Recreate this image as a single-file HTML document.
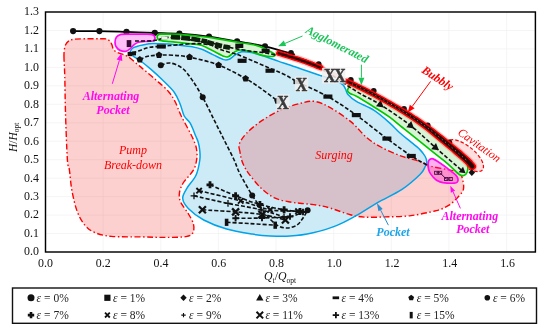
<!DOCTYPE html><html><head><meta charset="utf-8"><title>Flow pattern map</title>
<style>html,body{margin:0;padding:0;background:#fff}svg{display:block}text{font-family:"Liberation Serif","DejaVu Serif",serif}</style></head><body>
<svg width="550" height="329" viewBox="0 0 550 329">
<rect width="550" height="329" fill="#fff"/>
<path d="M45.5 233.5H535.4M45.5 215.1H535.4M45.5 196.6H535.4M45.5 178.2H535.4M45.5 159.7H535.4M45.5 141.2H535.4M45.5 122.8H535.4M45.5 104.3H535.4M45.5 85.8H535.4M45.5 67.4H535.4M45.5 48.9H535.4M45.5 30.5H535.4M103.1 12.0V252.0M160.8 12.0V252.0M218.4 12.0V252.0M276.0 12.0V252.0M333.7 12.0V252.0M391.3 12.0V252.0M448.9 12.0V252.0M506.6 12.0V252.0" stroke="#f0f0f0" stroke-width="0.7" fill="none"/>
<path d="M130.2 53.0C129.9 51.9 130.6 50.6 131.3 49.6C132.0 48.6 133.2 47.9 134.6 47.2C136.0 46.5 137.8 46.1 139.5 45.6C141.2 45.1 142.8 44.8 145.0 44.4C147.2 44.0 148.4 43.6 152.4 43.5C156.4 43.4 164.2 43.7 168.8 44.0C173.4 44.3 176.3 44.9 180.0 45.3C183.7 45.7 187.3 45.8 191.0 46.5C194.7 47.2 198.2 47.9 201.9 49.3C205.6 50.6 209.2 52.9 212.9 54.6C216.6 56.3 221.1 58.8 223.8 59.6C226.5 60.4 227.5 59.9 229.3 59.2C231.1 58.5 232.8 56.4 234.8 55.2C236.9 54.0 238.8 52.2 241.6 51.8C244.4 51.4 247.0 51.6 251.4 52.6C255.8 53.6 263.3 56.0 267.9 57.5C272.5 59.0 274.3 59.9 278.8 61.4C283.3 62.9 290.4 65.2 295.0 66.8C299.6 68.4 302.4 69.4 306.4 70.8C310.4 72.2 316.3 74.2 318.8 75.0C321.3 75.8 318.5 74.9 321.2 75.8C323.9 76.7 331.4 79.1 335.0 80.5C338.6 81.9 340.8 83.0 342.5 84.4C344.2 85.8 344.6 87.3 345.5 89.0C346.4 90.7 346.4 92.7 348.2 94.7C350.0 96.8 352.1 98.7 356.4 101.3C360.7 103.9 368.6 106.9 374.1 110.4C379.6 114.0 385.0 118.8 389.3 122.6C393.6 126.4 396.6 129.9 400.0 133.0C403.4 136.1 406.6 138.5 409.9 141.2C413.2 143.9 417.1 146.8 419.7 149.4C422.2 152.0 424.0 154.4 425.2 156.5C426.4 158.6 426.8 160.2 426.8 162.0C426.8 163.8 426.1 164.9 425.0 167.0C423.9 169.1 423.8 170.8 420.0 174.5C416.2 178.2 409.1 184.7 402.0 189.4C394.9 194.1 385.2 198.2 377.5 202.6C369.8 207.0 362.9 211.9 356.0 215.7C349.1 219.5 343.7 222.7 336.4 225.6C329.1 228.5 319.7 231.2 312.0 233.0C304.3 234.8 297.0 235.6 290.0 236.1C283.0 236.6 276.3 236.3 270.0 236.0C263.7 235.7 259.4 235.3 252.2 234.1C245.0 232.9 234.7 231.3 226.6 229.0C218.5 226.7 210.1 223.4 203.7 220.0C197.3 216.6 191.8 212.1 188.3 208.5C184.8 204.9 182.9 201.7 182.7 198.3C182.5 194.9 184.8 191.9 187.0 188.1C189.2 184.3 193.9 180.0 196.0 175.3C198.1 170.6 199.2 164.2 199.8 160.0C200.4 155.8 200.0 153.1 199.7 150.0C199.4 146.9 198.7 143.8 198.0 141.5C197.3 139.2 197.0 139.1 195.7 136.0C194.4 132.9 192.1 126.5 190.2 123.2C188.3 119.9 185.9 119.2 184.2 116.0C182.5 112.8 181.9 108.2 180.2 104.2C178.5 100.2 177.2 96.3 174.2 92.2C171.2 88.1 166.2 83.6 162.3 79.8C158.4 76.0 154.7 72.6 151.0 69.4C147.3 66.2 143.0 62.7 140.0 60.5C137.0 58.3 134.8 57.5 133.2 56.2C131.6 55.0 130.5 54.1 130.2 53.0Z" fill="#cdebf7"/>
<path d="M64.0 58.0C63.9 53.6 64.0 52.2 64.3 50.0C64.6 47.8 64.9 46.3 65.6 44.8C66.3 43.3 67.3 42.1 68.6 41.2C69.9 40.3 70.8 39.7 73.5 39.3C76.2 38.9 79.9 38.9 85.0 38.8C90.1 38.7 100.2 38.7 104.0 38.8C107.8 38.9 106.5 38.9 107.5 39.4C108.5 39.9 109.5 40.6 110.3 41.5C111.0 42.4 111.5 43.8 112.0 45.0C112.5 46.2 112.5 47.5 113.0 48.5C113.5 49.5 114.3 50.5 115.3 51.3C116.3 52.1 117.7 52.7 119.0 53.2C120.3 53.7 121.8 54.0 123.0 54.4C124.2 54.8 125.3 55.2 126.5 55.8C127.7 56.4 128.2 56.6 130.0 58.0C131.8 59.4 135.2 62.5 137.2 64.2C139.2 65.9 138.8 65.4 142.0 68.1C145.2 70.8 151.7 76.2 156.1 80.1C160.5 83.9 165.0 87.6 168.2 91.2C171.3 94.8 172.9 97.5 175.0 101.5C177.1 105.5 178.4 110.2 181.0 115.5C183.6 120.8 188.2 128.9 190.5 133.5C192.8 138.1 193.8 140.1 194.8 143.0C195.9 145.9 196.5 148.2 196.8 151.0C197.1 153.8 197.2 156.8 196.6 160.0C196.0 163.2 195.6 166.4 193.4 170.2C191.2 174.0 185.5 179.2 183.2 183.0C180.9 186.8 179.8 190.0 179.4 193.2C179.0 196.4 179.2 198.8 180.7 202.2C182.2 205.6 186.2 210.1 188.3 213.7C190.4 217.3 192.6 220.7 193.4 223.9C194.2 227.1 194.2 230.7 192.9 232.8C191.6 234.9 190.5 235.8 185.8 236.6C181.2 237.4 172.3 237.3 165.0 237.4C157.7 237.5 151.1 237.1 142.2 236.9C133.3 236.7 119.4 237.1 111.5 236.4C103.6 235.7 99.4 234.5 94.9 232.6C90.4 230.7 87.7 228.5 84.7 224.9C81.7 221.3 79.1 216.7 77.0 210.9C74.9 205.2 73.2 197.2 71.9 190.4C70.6 183.6 70.2 175.1 69.4 170.0C68.7 164.9 68.1 169.5 67.4 160.0C66.8 150.5 65.9 126.9 65.5 113.0C65.1 99.1 65.0 85.7 64.8 76.5C64.5 67.3 64.1 62.4 64.0 58.0Z" fill="rgba(245,40,40,0.22)" stroke="#ff0000" stroke-width="1.4" stroke-dasharray="6 2.5 1.5 2.5"/>
<path d="M240.0 152.0C239.7 149.6 238.2 147.1 239.3 144.0C240.4 140.9 242.7 137.3 246.4 133.4C250.2 129.5 255.8 124.7 261.8 120.7C267.8 116.7 275.4 112.2 282.2 109.2C289.0 106.2 297.1 104.1 302.6 102.8C308.1 101.5 310.6 100.7 315.3 101.5C320.0 102.3 324.7 104.5 330.7 107.9C336.7 111.3 345.2 117.0 351.1 121.9C357.1 126.8 361.3 133.0 366.4 137.3C371.5 141.6 375.8 144.3 381.8 147.5C387.8 150.7 395.8 154.1 402.2 156.4C408.6 158.7 415.1 159.8 420.0 161.5C424.9 163.2 426.8 165.0 431.4 166.3C436.0 167.7 443.1 168.5 447.8 169.6C452.5 170.7 456.8 171.2 459.3 172.8C461.8 174.4 461.9 176.7 462.6 179.4C463.3 182.2 464.1 186.5 463.4 189.3C462.7 192.2 460.9 193.8 458.5 196.5C456.1 199.2 452.7 202.8 449.0 205.2C445.3 207.5 442.7 208.9 436.3 210.6C429.9 212.3 419.4 214.5 410.9 215.6C402.4 216.7 393.2 216.7 385.4 216.9C377.6 217.2 370.2 217.5 364.3 217.1C358.4 216.7 355.9 216.2 350.2 214.7C344.5 213.2 335.7 209.7 330.2 208.1C324.7 206.5 321.8 205.9 317.4 205.2C313.0 204.4 308.4 204.1 304.0 203.6C299.6 203.1 296.1 203.1 291.3 202.2C286.5 201.3 280.2 200.5 275.2 198.2C270.2 195.9 265.5 192.2 261.1 188.2C256.8 184.2 252.0 178.0 249.1 174.1C246.2 170.2 244.9 167.6 243.6 165.0C242.3 162.4 241.8 160.7 241.2 158.5C240.6 156.3 240.3 154.4 240.0 152.0Z" fill="rgba(245,40,40,0.22)" stroke="#ff0000" stroke-width="1.4" stroke-dasharray="6 2.5 1.5 2.5"/>
<path d="M130.2 53.0C129.9 51.9 130.6 50.6 131.3 49.6C132.0 48.6 133.2 47.9 134.6 47.2C136.0 46.5 137.8 46.1 139.5 45.6C141.2 45.1 142.8 44.8 145.0 44.4C147.2 44.0 148.4 43.6 152.4 43.5C156.4 43.4 164.2 43.7 168.8 44.0C173.4 44.3 176.3 44.9 180.0 45.3C183.7 45.7 187.3 45.8 191.0 46.5C194.7 47.2 198.2 47.9 201.9 49.3C205.6 50.6 209.2 52.9 212.9 54.6C216.6 56.3 221.1 58.8 223.8 59.6C226.5 60.4 227.5 59.9 229.3 59.2C231.1 58.5 232.8 56.4 234.8 55.2C236.9 54.0 238.8 52.2 241.6 51.8C244.4 51.4 247.0 51.6 251.4 52.6C255.8 53.6 263.3 56.0 267.9 57.5C272.5 59.0 274.3 59.9 278.8 61.4C283.3 62.9 290.4 65.2 295.0 66.8C299.6 68.4 302.4 69.4 306.4 70.8C310.4 72.2 316.3 74.2 318.8 75.0C321.3 75.8 318.5 74.9 321.2 75.8C323.9 76.7 331.4 79.1 335.0 80.5C338.6 81.9 340.8 83.0 342.5 84.4C344.2 85.8 344.6 87.3 345.5 89.0C346.4 90.7 346.4 92.7 348.2 94.7C350.0 96.8 352.1 98.7 356.4 101.3C360.7 103.9 368.6 106.9 374.1 110.4C379.6 114.0 385.0 118.8 389.3 122.6C393.6 126.4 396.6 129.9 400.0 133.0C403.4 136.1 406.6 138.5 409.9 141.2C413.2 143.9 417.1 146.8 419.7 149.4C422.2 152.0 424.0 154.4 425.2 156.5C426.4 158.6 426.8 160.2 426.8 162.0C426.8 163.8 426.1 164.9 425.0 167.0C423.9 169.1 423.8 170.8 420.0 174.5C416.2 178.2 409.1 184.7 402.0 189.4C394.9 194.1 385.2 198.2 377.5 202.6C369.8 207.0 362.9 211.9 356.0 215.7C349.1 219.5 343.7 222.7 336.4 225.6C329.1 228.5 319.7 231.2 312.0 233.0C304.3 234.8 297.0 235.6 290.0 236.1C283.0 236.6 276.3 236.3 270.0 236.0C263.7 235.7 259.4 235.3 252.2 234.1C245.0 232.9 234.7 231.3 226.6 229.0C218.5 226.7 210.1 223.4 203.7 220.0C197.3 216.6 191.8 212.1 188.3 208.5C184.8 204.9 182.9 201.7 182.7 198.3C182.5 194.9 184.8 191.9 187.0 188.1C189.2 184.3 193.9 180.0 196.0 175.3C198.1 170.6 199.2 164.2 199.8 160.0C200.4 155.8 200.0 153.1 199.7 150.0C199.4 146.9 198.7 143.8 198.0 141.5C197.3 139.2 197.0 139.1 195.7 136.0C194.4 132.9 192.1 126.5 190.2 123.2C188.3 119.9 185.9 119.2 184.2 116.0C182.5 112.8 181.9 108.2 180.2 104.2C178.5 100.2 177.2 96.3 174.2 92.2C171.2 88.1 166.2 83.6 162.3 79.8C158.4 76.0 154.7 72.6 151.0 69.4C147.3 66.2 143.0 62.7 140.0 60.5C137.0 58.3 134.8 57.5 133.2 56.2C131.6 55.0 130.5 54.1 130.2 53.0Z" fill="none" stroke="#00a2e8" stroke-width="1.5"/>
<path d="M73.1 31.1C77.5 31.1 90.5 31.0 99.4 31.1C108.3 31.2 117.3 31.6 126.5 31.9C135.7 32.2 146.0 32.5 154.8 32.8C163.6 33.1 170.4 33.1 179.4 33.7C188.4 34.3 199.4 35.3 209.0 36.6C218.6 37.9 227.8 39.8 237.1 41.4C246.4 43.0 255.4 44.1 265.0 46.3C274.6 48.5 289.9 53.2 294.9 54.6" stroke="#000" stroke-width="1.7" fill="none"/>
<circle cx="73.1" cy="31.1" r="3.1" fill="#111"/>
<circle cx="99.4" cy="31.1" r="3.1" fill="#111"/>
<circle cx="126.5" cy="31.9" r="3.1" fill="#111"/>
<circle cx="154.8" cy="32.8" r="3.1" fill="#111"/>
<circle cx="179.4" cy="33.7" r="3.1" fill="#111"/>
<circle cx="209.0" cy="36.6" r="3.1" fill="#111"/>
<circle cx="237.1" cy="41.4" r="3.1" fill="#111"/>
<circle cx="265.0" cy="46.3" r="3.1" fill="#111"/>
<path d="M157.2 37.4C157.1 36.6 157.3 35.5 158.0 35.0C158.7 34.5 157.7 34.3 161.3 34.2C164.9 34.1 173.4 34.1 179.4 34.4C185.4 34.7 191.8 35.6 197.5 36.2C203.2 36.8 207.7 37.2 213.9 38.1C220.1 39.1 227.4 40.4 234.6 41.7C241.8 42.9 250.6 43.8 256.9 45.6C263.2 47.4 269.1 50.9 272.2 52.4C275.2 53.9 275.2 54.1 275.2 54.8C275.2 55.5 274.3 56.4 272.2 56.5C270.1 56.6 265.9 56.1 262.4 55.3C258.9 54.5 254.9 52.6 251.4 51.7C247.9 50.8 244.2 50.1 241.6 50.0C239.0 49.9 237.5 50.6 236.0 51.2C234.5 51.8 233.9 52.6 232.6 53.5C231.3 54.4 229.7 56.3 228.2 56.8C226.7 57.3 226.4 57.3 223.8 56.3C221.2 55.3 216.6 52.6 212.9 50.8C209.2 49.0 205.6 46.7 201.9 45.5C198.2 44.3 194.7 44.3 191.0 43.8C187.3 43.3 183.5 43.0 180.0 42.6C176.5 42.2 173.0 41.9 170.0 41.6C167.0 41.3 163.9 41.1 162.0 40.8C160.1 40.5 159.3 40.4 158.5 39.8C157.7 39.2 157.3 38.2 157.2 37.4Z" fill="#d8f4d4" stroke="#00c800" stroke-width="1.7"/>
<ellipse cx="465" cy="155.6" rx="22.5" ry="9.6" transform="rotate(39 465 155.6)" fill="rgba(245,40,40,0.15)" stroke="#ff0000" stroke-width="1.2" stroke-dasharray="3.5 2"/>
<path d="M348.2 88.5C349.1 87.3 348.8 83.0 353.0 83.9C357.2 84.8 365.2 89.2 373.7 93.9C382.2 98.6 395.0 106.2 404.0 112.0C413.0 117.8 420.3 123.1 427.9 128.8C435.4 134.5 443.1 140.9 449.3 146.0C455.5 151.1 461.9 155.9 465.0 159.4C468.1 162.9 467.4 164.9 467.8 167.0C468.2 169.1 467.8 170.6 467.2 172.0C466.6 173.4 465.6 174.9 464.3 175.3C463.0 175.7 462.1 176.4 459.3 174.5C456.6 172.6 452.2 167.6 447.8 163.8C443.4 160.0 438.0 156.1 432.8 151.9C427.6 147.7 421.5 142.8 416.4 138.7C411.3 134.6 406.9 131.1 402.4 127.5C397.9 123.9 394.2 120.5 389.3 116.9C384.4 113.4 378.3 109.6 372.8 106.2C367.3 102.8 360.2 98.4 356.4 96.3C352.6 94.2 351.5 94.4 350.0 93.5C348.5 92.6 347.9 91.8 347.6 91.0C347.3 90.2 347.3 89.7 348.2 88.5Z" fill="#d8f4d4" stroke="#00c800" stroke-width="1.7"/>
<path d="M115.0 42.5C115.0 40.8 115.5 38.4 116.5 37.0C117.5 35.6 118.8 34.9 121.0 34.4C123.2 33.9 126.0 34.1 130.0 34.1C134.0 34.1 141.2 34.1 145.0 34.2C148.8 34.3 150.9 34.1 152.6 34.8C154.3 35.5 155.0 37.2 155.0 38.2C155.0 39.2 154.5 40.5 152.8 41.0C151.1 41.5 147.4 41.3 145.0 41.5C142.6 41.7 140.2 41.7 138.5 42.2C136.8 42.7 135.9 43.2 134.5 44.3C133.1 45.4 131.5 47.6 130.0 48.8C128.5 50.0 127.4 51.0 125.7 51.3C124.0 51.6 121.6 51.1 120.0 50.4C118.4 49.7 117.1 48.3 116.3 47.0C115.5 45.7 115.0 44.2 115.0 42.5Z" fill="rgba(255,0,224,0.25)" stroke="#ff0aee" stroke-width="1.7"/>
<path d="M428.1 166.3C427.9 164.6 428.0 163.2 428.3 162.0C428.6 160.8 429.2 159.8 430.0 159.3C430.8 158.8 431.4 158.3 433.1 158.9C434.8 159.5 437.6 161.4 440.0 163.0C442.4 164.6 445.1 166.6 447.8 168.7C450.5 170.8 454.3 173.5 456.0 175.3C457.7 177.1 457.8 178.3 458.0 179.4C458.2 180.5 457.9 181.4 457.3 182.0C456.7 182.6 456.8 183.1 454.4 183.2C452.0 183.3 445.8 183.1 442.9 182.7C440.0 182.2 438.6 181.4 437.0 180.5C435.4 179.6 434.4 178.4 433.1 177.0C431.9 175.6 430.3 173.8 429.5 172.0C428.7 170.2 428.3 168.0 428.1 166.3Z" fill="rgba(255,0,200,0.30)" stroke="#ff0aee" stroke-width="1.7"/>
<path d="M160.8 65.3C162.4 64.9 166.6 62.5 170.2 63.0C173.8 63.5 178.5 65.2 182.2 68.1C185.9 70.9 188.8 75.2 192.2 80.1C195.6 84.9 199.2 90.9 202.7 97.2C206.2 103.5 209.8 111.2 213.2 118.1C216.6 125.0 220.0 131.7 223.4 138.5C226.8 145.3 230.9 153.1 233.7 159.0C236.5 164.9 236.9 167.9 240.0 174.0C243.1 180.1 250.2 192.0 252.2 195.6" stroke="#111" stroke-width="1.6" stroke-dasharray="4 2" fill="none"/>
<circle cx="160.8" cy="65.3" r="3.0" fill="#111"/>
<circle cx="202.7" cy="97.2" r="3.0" fill="#111"/>
<circle cx="252.2" cy="195.6" r="3.0" fill="#111"/>
<path d="M252.2 195.6C254.2 198.3 260.0 207.2 264.0 212.0C268.0 216.8 272.2 221.8 276.0 224.5C279.8 227.2 283.5 227.9 287.0 228.0C290.5 228.1 294.3 226.7 297.0 225.0C299.7 223.3 301.2 220.5 303.0 218.0C304.8 215.5 306.8 211.5 307.6 210.2" stroke="#111" stroke-width="1.6" stroke-dasharray="4 2" fill="none"/>
<circle cx="307.6" cy="210.2" r="3.0" fill="#111"/>
<path d="M139.8 59.6C141.2 59.0 144.8 56.9 148.0 56.2C151.2 55.5 154.9 55.4 159.0 55.2C163.1 55.0 167.7 54.9 172.8 55.2C177.9 55.5 181.9 55.6 189.5 57.2C197.1 58.8 209.2 61.4 218.6 65.0C227.9 68.6 238.4 74.5 245.6 78.6C252.8 82.6 256.8 85.6 262.0 89.3C267.2 93.0 274.5 98.6 277.0 100.5" stroke="#111" stroke-width="1.6" stroke-dasharray="4 2" fill="none"/>
<polygon points="139.8,56.0 143.2,58.5 141.9,62.5 137.7,62.5 136.4,58.5" fill="#111"/>
<polygon points="159.0,51.6 162.4,54.1 161.1,58.1 156.9,58.1 155.6,54.1" fill="#111"/>
<polygon points="189.5,53.6 192.9,56.1 191.6,60.1 187.4,60.1 186.1,56.1" fill="#111"/>
<polygon points="218.6,61.4 222.0,63.9 220.7,67.9 216.5,67.9 215.2,63.9" fill="#111"/>
<polygon points="245.6,75.0 249.0,77.5 247.7,81.5 243.5,81.5 242.2,77.5" fill="#111"/>
<polygon points="277.5,97.2 280.9,99.7 279.6,103.7 275.4,103.7 274.1,99.7" fill="#111"/>
<path d="M132.5 53.0C133.8 52.6 137.1 51.4 140.0 50.4C142.9 49.4 145.8 48.0 149.9 47.3C154.0 46.6 159.9 46.4 164.6 46.0C169.2 45.6 172.7 45.2 177.8 44.8C182.9 44.4 189.7 43.6 195.0 43.6C200.3 43.6 205.7 43.9 209.8 44.8C213.9 45.7 215.8 47.8 219.6 49.2C223.4 50.6 229.7 52.4 232.8 53.3C235.9 54.2 235.2 53.6 238.3 54.8C241.4 56.0 246.5 58.2 251.4 60.3C256.3 62.4 262.6 65.1 267.9 67.4C273.2 69.7 278.2 71.6 283.2 74.0C288.2 76.4 290.6 78.2 298.0 82.0C305.4 85.8 318.2 91.1 327.9 96.6C337.6 102.1 346.5 108.1 356.3 115.1C366.1 122.1 377.7 131.8 386.9 138.6C396.1 145.4 404.5 151.5 411.3 156.0C418.1 160.5 425.0 163.8 427.7 165.4" stroke="#111" stroke-width="1.6" stroke-dasharray="4 2" fill="none"/>
<rect x="156.8" y="44.4" width="9.0" height="4.2" fill="#111"/>
<rect x="237.6" y="58.7" width="9.0" height="4.2" fill="#111"/>
<rect x="265.5" y="68.6" width="9.0" height="4.2" fill="#111"/>
<rect x="293.5" y="79.9" width="9.0" height="4.2" fill="#111"/>
<rect x="323.4" y="94.5" width="9.0" height="4.2" fill="#111"/>
<rect x="351.8" y="113.0" width="9.0" height="4.2" fill="#111"/>
<rect x="382.4" y="136.5" width="9.0" height="4.2" fill="#111"/>
<rect x="406.8" y="153.9" width="9.0" height="4.2" fill="#111"/>
<rect x="127.6" y="51.8" width="4.4" height="4.4" fill="#111"/>
<rect x="132.0" y="51.4" width="4.0" height="4.0" fill="#111"/>
<path d="M135.0 41.0C138.2 40.9 149.0 41.2 154.0 40.6C159.0 40.0 161.3 38.1 165.0 37.6C168.7 37.1 172.0 37.6 176.0 37.9C180.0 38.2 185.0 39.0 189.0 39.6C193.0 40.2 196.2 40.8 200.0 41.4C203.8 42.0 208.9 42.6 212.0 43.2C215.1 43.8 215.8 44.1 218.8 44.8C221.8 45.5 225.5 46.5 230.0 47.5C234.5 48.5 240.7 49.7 246.0 50.5C251.3 51.3 257.0 51.8 262.0 52.5C267.0 53.2 273.7 54.6 276.0 55.0" stroke="#111" stroke-width="1.6" stroke-dasharray="4 2" fill="none"/>
<path d="M171.0 37.0C172.7 37.1 177.8 37.3 181.0 37.6C184.2 37.9 186.8 38.2 190.0 38.6C193.2 39.0 197.2 39.7 200.0 40.2C202.8 40.7 205.8 41.2 207.0 41.4" stroke="#0b1f0b" stroke-width="4.6" stroke-dasharray="9 1.2" fill="none"/>
<path d="M207.0 42.2C208.2 42.5 211.5 43.3 214.0 44.0C216.5 44.7 219.3 45.6 222.0 46.2C224.7 46.8 228.7 47.5 230.0 47.8" stroke="#0b1f0b" stroke-width="4.8" stroke-dasharray="7 1.5" fill="none"/>
<rect x="161.5" y="36.8" width="6" height="2.4" fill="#eef8ea" stroke="#9ab89a" stroke-width="0.5"/>
<rect x="235.3" y="43.6" width="8.0" height="4.4" fill="#111"/>
<rect x="261.6" y="48.7" width="8.0" height="4.2" fill="#111"/>
<rect x="126.7" y="40.1" width="4.6" height="7.0" fill="#3a0838"/>
<path d="M300.0 60.0C304.2 61.8 315.6 65.8 325.0 71.0C334.4 76.2 347.2 85.8 356.4 91.4C365.6 97.0 371.2 98.9 380.2 104.6C389.2 110.3 401.4 118.4 410.6 125.6C419.8 132.8 426.7 139.9 435.4 147.5C444.1 155.1 458.1 167.2 462.6 171.2" stroke="#111" stroke-width="1.6" stroke-dasharray="4 2" fill="none"/>
<polygon points="383.7,107.4 376.0,106.3 380.8,100.1" fill="#111"/>
<polygon points="414.1,128.4 406.4,127.3 411.2,121.1" fill="#111"/>
<polygon points="438.9,150.3 431.2,149.2 436.0,143.0" fill="#111"/>
<polygon points="465.6,173.3 458.7,172.3 463.0,166.8" fill="#111"/>
<path d="M210.0 184.8C214.3 186.6 227.3 192.5 235.6 195.8C243.9 199.1 251.8 202.2 259.9 204.5C268.0 206.8 277.4 208.6 284.1 209.8C290.8 211.0 297.4 211.2 300.0 211.5" stroke="#111" stroke-width="1.6" stroke-dasharray="4 2" fill="none"/>
<path d="M206.5 184.8H213.5M210.0 181.3V188.3" stroke="#111" stroke-width="2.8" fill="none"/>
<path d="M232.1 195.8H239.1M235.6 192.3V199.3" stroke="#111" stroke-width="2.8" fill="none"/>
<path d="M256.4 204.5H263.4M259.9 201.0V208.0" stroke="#111" stroke-width="2.8" fill="none"/>
<path d="M280.6 209.8H287.6M284.1 206.3V213.3" stroke="#111" stroke-width="2.8" fill="none"/>
<path d="M296.5 211.5H303.5M300.0 208.0V215.0" stroke="#111" stroke-width="2.8" fill="none"/>
<path d="M199.1 190.7C206.0 192.4 228.9 197.7 240.7 200.9C252.5 204.1 260.6 208.1 270.1 209.8C279.7 211.5 293.4 211.0 298.0 211.2" stroke="#111" stroke-width="1.6" stroke-dasharray="4 2" fill="none"/>
<path d="M196.4 188.0L201.8 193.4M196.4 193.4L201.8 188.0" stroke="#111" stroke-width="1.9" fill="none"/>
<path d="M238.0 198.2L243.4 203.6M238.0 203.6L243.4 198.2" stroke="#111" stroke-width="1.9" fill="none"/>
<path d="M267.4 207.1L272.8 212.5M267.4 212.5L272.8 207.1" stroke="#111" stroke-width="1.9" fill="none"/>
<path d="M295.3 208.5L300.7 213.9M295.3 213.9L300.7 208.5" stroke="#111" stroke-width="1.9" fill="none"/>
<path d="M194.0 195.8C199.7 197.1 216.8 201.1 228.0 203.4C239.2 205.7 251.8 207.5 261.1 209.8C270.4 212.1 280.2 215.8 284.0 217.0" stroke="#111" stroke-width="1.6" stroke-dasharray="4 2" fill="none"/>
<path d="M190.6 195.8H197.4M194.0 192.4V199.2" stroke="#111" stroke-width="1.3" fill="none"/>
<path d="M224.6 203.4H231.4M228.0 200.0V206.8" stroke="#111" stroke-width="1.3" fill="none"/>
<path d="M257.7 209.8H264.5M261.1 206.4V213.2" stroke="#111" stroke-width="1.3" fill="none"/>
<path d="M280.6 217.0H287.4M284.0 213.6V220.4" stroke="#111" stroke-width="1.3" fill="none"/>
<path d="M202.4 209.8C207.9 210.2 225.7 211.1 235.6 211.9C245.5 212.7 253.7 213.2 262.0 214.5C270.3 215.8 281.5 219.1 285.4 220.0" stroke="#111" stroke-width="1.6" stroke-dasharray="4 2" fill="none"/>
<path d="M198.9 206.3L205.9 213.3M198.9 213.3L205.9 206.3" stroke="#111" stroke-width="2.3" fill="none"/>
<path d="M232.1 208.4L239.1 215.4M232.1 215.4L239.1 208.4" stroke="#111" stroke-width="2.3" fill="none"/>
<path d="M258.5 211.0L265.5 218.0M258.5 218.0L265.5 211.0" stroke="#111" stroke-width="2.3" fill="none"/>
<path d="M281.9 216.5L288.9 223.5M281.9 223.5L288.9 216.5" stroke="#111" stroke-width="2.3" fill="none"/>
<path d="M235.6 218.3C240.0 218.2 252.9 218.3 262.0 218.0C271.1 217.7 283.2 217.5 290.0 216.5C296.8 215.5 300.8 212.8 303.0 212.0" stroke="#111" stroke-width="1.6" stroke-dasharray="4 2" fill="none"/>
<path d="M232.3 218.3H238.9M235.6 215.0V221.6" stroke="#111" stroke-width="1.9" fill="none"/>
<path d="M258.7 218.0H265.3M262.0 214.7V221.3" stroke="#111" stroke-width="1.9" fill="none"/>
<path d="M286.7 216.5H293.3M290.0 213.2V219.8" stroke="#111" stroke-width="1.9" fill="none"/>
<path d="M299.7 212.0H306.3M303.0 208.7V215.3" stroke="#111" stroke-width="1.9" fill="none"/>
<path d="M226.6 222.3C230.5 222.5 241.9 223.1 250.0 223.6C258.1 224.1 271.0 224.9 275.2 225.2" stroke="#111" stroke-width="1.6" stroke-dasharray="4 2" fill="none"/>
<rect x="224.8" y="218.7" width="3.6" height="7.2" fill="#111"/>
<rect x="273.4" y="221.6" width="3.6" height="7.2" fill="#111"/>
<circle cx="291.0" cy="52.8" r="2.9" fill="#111"/>
<circle cx="318.7" cy="64.2" r="2.9" fill="#111"/>
<circle cx="350.8" cy="79.9" r="2.9" fill="#111"/>
<circle cx="373.7" cy="90.8" r="2.9" fill="#111"/>
<circle cx="404.0" cy="109.0" r="2.9" fill="#111"/>
<circle cx="427.7" cy="125.5" r="2.9" fill="#111"/>
<circle cx="449.3" cy="142.3" r="2.9" fill="#111"/>
<path d="M279.2 51.4L280.1 51.7L281.2 52.0L282.6 52.4L284.1 52.9L285.8 53.4L287.5 53.9L289.3 54.5L291.1 55.0L292.9 55.6L294.6 56.1L296.1 56.6L297.5 57.0L298.7 57.4L299.9 57.8L301.0 58.1L302.0 58.5L303.0 58.8L304.0 59.2L304.9 59.5L305.9 59.8L306.8 60.2L307.7 60.5L308.7 60.9L309.7 61.2L310.7 61.6L311.8 62.0L312.9 62.5L314.0 62.9L315.2 63.4L316.3 63.8L317.3 64.2L318.3 64.6L319.2 65.0L320.1 65.3L320.7 65.6L321.3 65.8A1.9 1.9 0 0 1 319.9 69.4L319.3 69.1L318.6 68.9L317.8 68.5L316.9 68.2L315.9 67.8L314.8 67.3L313.8 66.9L312.6 66.4L311.5 66.0L310.4 65.6L309.3 65.2L308.3 64.8L307.4 64.4L306.4 64.1L305.5 63.7L304.6 63.4L303.7 63.1L302.7 62.8L301.8 62.4L300.8 62.1L299.8 61.7L298.7 61.4L297.5 61.0L296.3 60.6L295.0 60.2L293.4 59.7L291.8 59.2L290.0 58.6L288.2 58.1L286.4 57.6L284.7 57.0L283.0 56.5L281.5 56.1L280.1 55.6L279.0 55.3L278.0 55.0A1.9 1.9 0 0 1 279.2 51.4Z" fill="none" stroke="rgba(255,0,0,0.22)" stroke-width="4"/>
<path d="M279.2 51.4L280.1 51.7L281.2 52.0L282.6 52.4L284.1 52.9L285.8 53.4L287.5 53.9L289.3 54.5L291.1 55.0L292.9 55.6L294.6 56.1L296.1 56.6L297.5 57.0L298.7 57.4L299.9 57.8L301.0 58.1L302.0 58.5L303.0 58.8L304.0 59.2L304.9 59.5L305.9 59.8L306.8 60.2L307.7 60.5L308.7 60.9L309.7 61.2L310.7 61.6L311.8 62.0L312.9 62.5L314.0 62.9L315.2 63.4L316.3 63.8L317.3 64.2L318.3 64.6L319.2 65.0L320.1 65.3L320.7 65.6L321.3 65.8A1.9 1.9 0 0 1 319.9 69.4L319.3 69.1L318.6 68.9L317.8 68.5L316.9 68.2L315.9 67.8L314.8 67.3L313.8 66.9L312.6 66.4L311.5 66.0L310.4 65.6L309.3 65.2L308.3 64.8L307.4 64.4L306.4 64.1L305.5 63.7L304.6 63.4L303.7 63.1L302.7 62.8L301.8 62.4L300.8 62.1L299.8 61.7L298.7 61.4L297.5 61.0L296.3 60.6L295.0 60.2L293.4 59.7L291.8 59.2L290.0 58.6L288.2 58.1L286.4 57.6L284.7 57.0L283.0 56.5L281.5 56.1L280.1 55.6L279.0 55.3L278.0 55.0A1.9 1.9 0 0 1 279.2 51.4Z" fill="#2a0606" stroke="#ff0000" stroke-width="1.5"/>
<path d="M348.3 79.7L349.5 80.3L351.0 81.0L352.7 81.8L354.6 82.7L356.7 83.7L358.9 84.8L361.3 85.9L363.7 87.1L366.2 88.3L368.7 89.6L371.2 90.9L373.7 92.2L376.2 93.6L378.9 95.1L381.7 96.6L384.5 98.2L387.4 99.9L390.4 101.5L393.3 103.2L396.2 104.9L399.0 106.5L401.8 108.1L404.4 109.6L406.8 111.0L409.0 112.4L411.2 113.7L413.2 115.0L415.1 116.3L417.0 117.5L418.8 118.7L420.6 119.9L422.3 121.1L424.0 122.3L425.8 123.6L427.5 124.9L429.3 126.2L431.2 127.5L433.1 128.9L435.0 130.4L436.8 131.8L438.7 133.3L440.6 134.8L442.4 136.2L444.2 137.7L446.0 139.1L447.7 140.5L449.4 141.9L451.0 143.2L452.6 144.5L454.2 145.8L455.8 147.0L457.3 148.3L458.8 149.5L460.3 150.7L461.7 151.9L463.0 153.1L464.3 154.2L465.5 155.2L466.6 156.2L467.7 157.2L468.6 158.1L469.5 158.9L470.3 159.7L471.0 160.4L471.7 161.1L472.2 161.8L472.8 162.4L473.2 162.9L473.6 163.4L474.0 163.8L474.3 164.2L474.5 164.4A2.9 2.9 0 0 1 470.3 168.4L469.9 168.0L469.6 167.6L469.2 167.2L468.8 166.7L468.4 166.2L467.9 165.7L467.4 165.1L466.8 164.4L466.1 163.8L465.4 163.0L464.6 162.3L463.7 161.4L462.8 160.5L461.7 159.6L460.5 158.5L459.2 157.5L457.9 156.3L456.6 155.1L455.1 153.9L453.7 152.6L452.2 151.3L450.7 150.0L449.1 148.7L447.6 147.4L446.0 146.1L444.3 144.7L442.6 143.2L440.9 141.8L439.1 140.3L437.3 138.8L435.5 137.3L433.7 135.8L431.9 134.3L430.1 132.8L428.3 131.4L426.5 130.0L424.7 128.7L423.0 127.4L421.3 126.1L419.6 124.9L417.9 123.6L416.2 122.4L414.5 121.2L412.7 119.9L410.8 118.6L408.9 117.3L406.8 116.0L404.6 114.6L402.3 113.1L399.7 111.5L397.1 109.9L394.3 108.2L391.4 106.5L388.5 104.8L385.6 103.2L382.7 101.5L379.8 99.9L377.0 98.4L374.4 96.9L371.9 95.6L369.5 94.3L367.0 93.0L364.5 91.7L362.0 90.5L359.6 89.3L357.3 88.2L355.0 87.1L353.0 86.1L351.1 85.2L349.3 84.4L347.9 83.7L346.7 83.1A1.9 1.9 0 0 1 348.3 79.7Z" fill="none" stroke="rgba(255,0,0,0.22)" stroke-width="4"/>
<path d="M348.3 79.7L349.5 80.3L351.0 81.0L352.7 81.8L354.6 82.7L356.7 83.7L358.9 84.8L361.3 85.9L363.7 87.1L366.2 88.3L368.7 89.6L371.2 90.9L373.7 92.2L376.2 93.6L378.9 95.1L381.7 96.6L384.5 98.2L387.4 99.9L390.4 101.5L393.3 103.2L396.2 104.9L399.0 106.5L401.8 108.1L404.4 109.6L406.8 111.0L409.0 112.4L411.2 113.7L413.2 115.0L415.1 116.3L417.0 117.5L418.8 118.7L420.6 119.9L422.3 121.1L424.0 122.3L425.8 123.6L427.5 124.9L429.3 126.2L431.2 127.5L433.1 128.9L435.0 130.4L436.8 131.8L438.7 133.3L440.6 134.8L442.4 136.2L444.2 137.7L446.0 139.1L447.7 140.5L449.4 141.9L451.0 143.2L452.6 144.5L454.2 145.8L455.8 147.0L457.3 148.3L458.8 149.5L460.3 150.7L461.7 151.9L463.0 153.1L464.3 154.2L465.5 155.2L466.6 156.2L467.7 157.2L468.6 158.1L469.5 158.9L470.3 159.7L471.0 160.4L471.7 161.1L472.2 161.8L472.8 162.4L473.2 162.9L473.6 163.4L474.0 163.8L474.3 164.2L474.5 164.4A2.9 2.9 0 0 1 470.3 168.4L469.9 168.0L469.6 167.6L469.2 167.2L468.8 166.7L468.4 166.2L467.9 165.7L467.4 165.1L466.8 164.4L466.1 163.8L465.4 163.0L464.6 162.3L463.7 161.4L462.8 160.5L461.7 159.6L460.5 158.5L459.2 157.5L457.9 156.3L456.6 155.1L455.1 153.9L453.7 152.6L452.2 151.3L450.7 150.0L449.1 148.7L447.6 147.4L446.0 146.1L444.3 144.7L442.6 143.2L440.9 141.8L439.1 140.3L437.3 138.8L435.5 137.3L433.7 135.8L431.9 134.3L430.1 132.8L428.3 131.4L426.5 130.0L424.7 128.7L423.0 127.4L421.3 126.1L419.6 124.9L417.9 123.6L416.2 122.4L414.5 121.2L412.7 119.9L410.8 118.6L408.9 117.3L406.8 116.0L404.6 114.6L402.3 113.1L399.7 111.5L397.1 109.9L394.3 108.2L391.4 106.5L388.5 104.8L385.6 103.2L382.7 101.5L379.8 99.9L377.0 98.4L374.4 96.9L371.9 95.6L369.5 94.3L367.0 93.0L364.5 91.7L362.0 90.5L359.6 89.3L357.3 88.2L355.0 87.1L353.0 86.1L351.1 85.2L349.3 84.4L347.9 83.7L346.7 83.1A1.9 1.9 0 0 1 348.3 79.7Z" fill="#2a0606" stroke="#ff0000" stroke-width="1.5"/>
<path d="M320.6 67.6L347.5 81.4" stroke="rgba(255,0,0,0.35)" stroke-width="4.5" fill="none"/>
<path d="M352.0 83.8C355.5 85.5 363.9 89.2 372.8 94.0C381.8 98.8 396.5 107.2 405.7 112.9C414.9 118.6 420.6 122.8 427.9 128.2C435.2 133.6 442.6 139.8 449.3 145.4C456.0 151.0 464.9 158.8 468.0 161.5" stroke="#caa" stroke-width="0.7" stroke-dasharray="1.2 3.2" fill="none"/>
<polygon points="471.8,169.3 475.1,172.6 471.8,175.9 468.5,172.6" fill="#111"/>
<path d="M436.3 172.8L440 172.8L446.2 179L450.6 179" stroke="#4a0a48" stroke-width="1" fill="none"/>
<rect x="434.6" y="171.3" width="3.4" height="3" fill="none" stroke="#4a0a48" stroke-width="0.9"/>
<rect x="438.3" y="171.3" width="3.4" height="3" fill="none" stroke="#4a0a48" stroke-width="0.9"/>
<rect x="444.5" y="177.5" width="3.4" height="3" fill="none" stroke="#4a0a48" stroke-width="0.9"/>
<rect x="448.9" y="177.5" width="3.4" height="3" fill="none" stroke="#4a0a48" stroke-width="0.9"/>
<rect x="322.0" y="68.0" width="23.4" height="15.6" fill="#f0f0f0" fill-opacity="0.85"/>
<text transform="translate(334.3 82.3) scale(0.86 1)" font-size="18.5" font-weight="bold" fill="#3a3a3a" stroke="#3a3a3a" stroke-width="0.5" text-anchor="middle" letter-spacing="-1.4">XX</text>
<rect x="294.9" y="76.4" width="13.3" height="15.5" fill="#f0f0f0" fill-opacity="0.85"/>
<text transform="translate(301.5 90.6) scale(0.86 1)" font-size="18.5" font-weight="bold" fill="#3a3a3a" stroke="#3a3a3a" stroke-width="0.5" text-anchor="middle" letter-spacing="0.0">X</text>
<rect x="276.4" y="94.3" width="13.2" height="15.5" fill="#f0f0f0" fill-opacity="0.85"/>
<text transform="translate(283.0 108.5) scale(0.86 1)" font-size="18.5" font-weight="bold" fill="#3a3a3a" stroke="#3a3a3a" stroke-width="0.5" text-anchor="middle" letter-spacing="0.0">X</text>
<rect x="45.5" y="12.0" width="489.9" height="240.0" fill="none" stroke="#000" stroke-width="1.45"/>
<path d="M302.5 36.0L285.0 43.4" stroke="#1cc45a" stroke-width="1.0" fill="none"/>
<polygon points="278.1,46.3 283.8,40.6 286.2,46.1" fill="#1cc45a"/>
<path d="M361.4 64.7L361.4 77.7" stroke="#1cc45a" stroke-width="1.0" fill="none"/>
<polygon points="361.4,85.2 358.4,77.7 364.4,77.7" fill="#1cc45a"/>
<path d="M430.6 81.4L412.2 106.5" stroke="#ff0000" stroke-width="1.0" fill="none"/>
<polygon points="407.8,112.6 409.8,104.8 414.6,108.3" fill="#ff0000"/>
<path d="M388.4 225.2L380.6 210.1" stroke="#2a8fd0" stroke-width="1.0" fill="none"/>
<polygon points="376.9,203.0 382.7,209.0 378.4,211.2" fill="#2a8fd0"/>
<path d="M460.4 208.4L453.0 191.7" stroke="#ff0aee" stroke-width="1.0" fill="none"/>
<polygon points="450.3,185.8 455.1,190.8 450.8,192.7" fill="#ff0aee"/>
<path d="M112.3 83.8L119.4 60.3" stroke="#ff0aee" stroke-width="1.0" fill="none"/>
<polygon points="121.6,53.1 122.3,61.1 116.6,59.4" fill="#ff0aee"/>
<text x="111.0" y="100.2" font-size="12.0" font-style="italic" font-weight="bold" fill="#ff0aee" text-anchor="middle">Alternating</text>
<text x="113.0" y="113.5" font-size="12.0" font-style="italic" font-weight="bold" fill="#ff0aee" text-anchor="middle">Pocket</text>
<text x="133.0" y="154.0" font-size="12.0" font-style="italic" fill="#ff0000" text-anchor="middle">Pump</text>
<text x="133.0" y="168.5" font-size="12.0" font-style="italic" fill="#ff0000" text-anchor="middle">Break-down</text>
<text x="334.0" y="159.2" font-size="12.0" font-style="italic" fill="#ff0000" text-anchor="middle">Surging</text>
<text x="393.0" y="236.0" font-size="12.0" font-style="italic" font-weight="bold" fill="#1fa5e8" text-anchor="middle">Pocket</text>
<text x="469.8" y="219.8" font-size="12.0" font-style="italic" font-weight="bold" fill="#ff0aee" text-anchor="middle">Alternating</text>
<text x="472.8" y="233.4" font-size="12.0" font-style="italic" font-weight="bold" fill="#ff0aee" text-anchor="middle">Pocket</text>
<text x="305.0" y="32.4" font-size="11.8" font-style="italic" font-weight="bold" fill="#1cc45a" text-anchor="start" transform="rotate(27.0 305.0 32.4)">Agglomerated</text>
<text x="421.0" y="72.0" font-size="11.8" font-style="italic" font-weight="bold" fill="#ff0000" text-anchor="start" transform="rotate(33.0 421.0 72.0)">Bubbly</text>
<text x="457.0" y="134.0" font-size="11.7" font-style="italic" fill="#ff0000" text-anchor="start" transform="rotate(35.5 457.0 134.0)">Cavitation</text>
<text x="38.9" y="255.3" font-size="11.9" text-anchor="end" fill="#111">0.0</text>
<text x="38.9" y="236.8" font-size="11.9" text-anchor="end" fill="#111">0.1</text>
<text x="38.9" y="218.4" font-size="11.9" text-anchor="end" fill="#111">0.2</text>
<text x="38.9" y="199.9" font-size="11.9" text-anchor="end" fill="#111">0.3</text>
<text x="38.9" y="181.5" font-size="11.9" text-anchor="end" fill="#111">0.4</text>
<text x="38.9" y="163.0" font-size="11.9" text-anchor="end" fill="#111">0.5</text>
<text x="38.9" y="144.5" font-size="11.9" text-anchor="end" fill="#111">0.6</text>
<text x="38.9" y="126.1" font-size="11.9" text-anchor="end" fill="#111">0.7</text>
<text x="38.9" y="107.6" font-size="11.9" text-anchor="end" fill="#111">0.8</text>
<text x="38.9" y="89.1" font-size="11.9" text-anchor="end" fill="#111">0.9</text>
<text x="38.9" y="70.7" font-size="11.9" text-anchor="end" fill="#111">1.0</text>
<text x="38.9" y="52.2" font-size="11.9" text-anchor="end" fill="#111">1.1</text>
<text x="38.9" y="33.8" font-size="11.9" text-anchor="end" fill="#111">1.2</text>
<text x="38.9" y="15.3" font-size="11.9" text-anchor="end" fill="#111">1.3</text>
<text x="45.5" y="266.8" font-size="11.9" text-anchor="middle" fill="#111">0.0</text>
<text x="103.3" y="266.8" font-size="11.9" text-anchor="middle" fill="#111">0.2</text>
<text x="161.0" y="266.8" font-size="11.9" text-anchor="middle" fill="#111">0.4</text>
<text x="218.8" y="266.8" font-size="11.9" text-anchor="middle" fill="#111">0.6</text>
<text x="276.5" y="266.8" font-size="11.9" text-anchor="middle" fill="#111">0.8</text>
<text x="334.3" y="266.8" font-size="11.9" text-anchor="middle" fill="#111">1.0</text>
<text x="392.1" y="266.8" font-size="11.9" text-anchor="middle" fill="#111">1.2</text>
<text x="449.8" y="266.8" font-size="11.9" text-anchor="middle" fill="#111">1.4</text>
<text x="507.6" y="266.8" font-size="11.9" text-anchor="middle" fill="#111">1.6</text>
<text x="264" y="280.3" font-size="11.8" fill="#111"><tspan font-style="italic">Q</tspan><tspan font-size="7.5" dy="2.5">t</tspan><tspan dy="-2.5">/</tspan><tspan font-style="italic">Q</tspan><tspan font-size="7.5" dy="2.5">opt</tspan></text>
<text transform="translate(16.5 152) rotate(-90)" font-size="11.5" fill="#111"><tspan font-style="italic">H</tspan>/<tspan font-style="italic">H</tspan><tspan font-size="7.5" dy="2.5">opt</tspan></text>
<rect x="12.5" y="288" width="524" height="35.3" fill="#fff" stroke="#111" stroke-width="1.4"/>
<circle cx="31.0" cy="297.8" r="3.5" fill="#111"/>
<text x="36.6" y="301.6" font-size="11.5" fill="#222"><tspan font-style="italic">ε</tspan> = 0%</text>
<rect x="104.3" y="294.7" width="6.2" height="6.2" fill="#111"/>
<text x="113.0" y="301.6" font-size="11.5" fill="#222"><tspan font-style="italic">ε</tspan> = 1%</text>
<polygon points="183.5,294.6 186.7,297.8 183.5,301.0 180.3,297.8" fill="#111"/>
<text x="189.1" y="301.6" font-size="11.5" fill="#222"><tspan font-style="italic">ε</tspan> = 2%</text>
<polygon points="259.8,294.1 263.5,300.6 256.1,300.6" fill="#111"/>
<text x="265.4" y="301.6" font-size="11.5" fill="#222"><tspan font-style="italic">ε</tspan> = 3%</text>
<rect x="332.6" y="296.4" width="6.5" height="2.8" fill="#111"/>
<text x="341.5" y="301.6" font-size="11.5" fill="#222"><tspan font-style="italic">ε</tspan> = 4%</text>
<polygon points="411.2,294.8 414.1,296.9 413.0,300.2 409.4,300.2 408.3,296.9" fill="#111"/>
<text x="416.8" y="301.6" font-size="11.5" fill="#222"><tspan font-style="italic">ε</tspan> = 5%</text>
<circle cx="487.3" cy="297.8" r="2.8" fill="#111"/>
<text x="492.9" y="301.6" font-size="11.5" fill="#222"><tspan font-style="italic">ε</tspan> = 6%</text>
<path d="M27.8 315.1H34.2M31.0 311.9V318.3" stroke="#111" stroke-width="2.6" fill="none"/>
<text x="36.6" y="318.9" font-size="11.5" fill="#222"><tspan font-style="italic">ε</tspan> = 7%</text>
<path d="M105.0 312.7L109.8 317.5M105.0 317.5L109.8 312.7" stroke="#111" stroke-width="1.8" fill="none"/>
<text x="113.0" y="318.9" font-size="11.5" fill="#222"><tspan font-style="italic">ε</tspan> = 8%</text>
<path d="M181.3 315.1H185.7M183.5 312.9V317.3" stroke="#111" stroke-width="1.1" fill="none"/>
<text x="189.1" y="318.9" font-size="11.5" fill="#222"><tspan font-style="italic">ε</tspan> = 9%</text>
<path d="M256.5 311.8L263.1 318.4M256.5 318.4L263.1 311.8" stroke="#111" stroke-width="2.0" fill="none"/>
<text x="265.4" y="318.9" font-size="11.5" fill="#222"><tspan font-style="italic">ε</tspan> = 11%</text>
<path d="M332.7 315.1H339.1M335.9 311.9V318.3" stroke="#111" stroke-width="1.8" fill="none"/>
<text x="341.5" y="318.9" font-size="11.5" fill="#222"><tspan font-style="italic">ε</tspan> = 13%</text>
<rect x="409.7" y="311.9" width="3.0" height="6.5" fill="#111"/>
<text x="416.8" y="318.9" font-size="11.5" fill="#222"><tspan font-style="italic">ε</tspan> = 15%</text>
</svg></body></html>
